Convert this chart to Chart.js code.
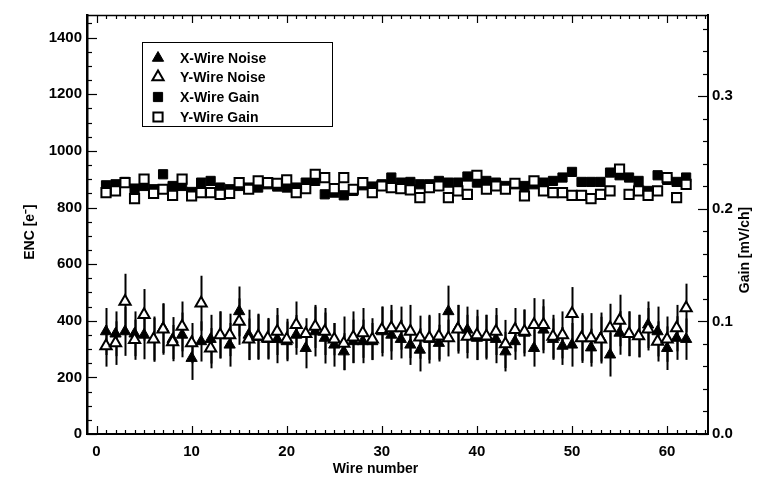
<!DOCTYPE html>
<html>
<head>
<meta charset="utf-8">
<script src="https://cdn.jsdelivr.net/npm/chart.js@4/dist/chart.umd.min.js"></script>
<style>
html, body { margin: 0; padding: 0; background: #fff; }
#wrap { width: 760px; height: 479px; }
</style>
</head>
<body>
<div id="wrap"><canvas id="c" width="760" height="479"></canvas></div>
<script>
// Wire numbers (x categories)
const wires = [1,2,3,4,5,6,7,8,9,10,11,12,13,14,15,16,17,18,19,20,21,22,23,24,25,26,27,28,29,30,31,
  32,33,34,35,36,37,38,39,40,41,42,43,44,45,46,47,48,49,50,51,52,53,54,55,56,57,58,59,60,61,62];

// Equivalent noise charge [e-] with its uncertainty, X wires
const xNoise = [362,354,362,354,350,335,374,335,350,268,327,335,350,315,433,350,342,335,335,327,350,
  303,362,339,315,291,327,327,327,362,350,335,315,297,335,321,433,374,368,339,342,335,291,327,357,
  303,368,335,311,315,339,305,339,280,357,354,346,386,362,303,339,335];
const xNoiseErr = [83,79,86,79,86,80,88,78,79,77,71,86,83,77,88,89,80,72,85,70,70,71,88,90,77,65,
  77,77,65,88,88,68,71,76,86,65,91,82,82,77,79,85,70,65,83,65,83,73,67,77,88,67,90,77,77,79,75,82,
  88,77,77,73];

// Equivalent noise charge [e-] with its uncertainty, Y wires
const yNoise = [311,321,468,333,421,335,370,325,380,321,462,303,350,350,397,335,345,338,362,335,386,
  354,380,362,335,320,342,357,335,368,374,374,362,342,339,345,339,370,344,350,345,362,318,368,362,
  386,386,344,350,425,339,339,335,374,401,354,346,370,327,335,374,445];
const yNoiseErr = [73,77,98,71,91,75,90,60,88,71,97,71,83,75,82,73,80,72,83,72,82,55,76,83,57,95,
  91,88,74,82,82,76,94,76,77,82,65,86,77,89,76,83,85,77,77,94,90,77,83,94,80,88,79,86,91,79,75,75,
  71,80,82,86];

// Gain [mV/ch]
const xGain = [0.2208,0.2217,0.2238,0.2179,0.2202,0.2173,0.2306,0.2202,0.2202,0.2149,0.2232,0.2247,
  0.2188,0.2173,0.2202,0.2188,0.2188,0.2217,0.2197,0.2188,0.2188,0.2232,0.2247,0.2128,0.2143,0.2119,
  0.2158,0.2208,0.2197,0.2217,0.2277,0.2232,0.2238,0.2217,0.2217,0.2247,0.2232,0.2232,0.2286,0.2232,
  0.2247,0.2232,0.2202,0.2217,0.2202,0.2217,0.2232,0.2247,0.2277,0.2327,0.2238,0.2238,0.2238,0.2321,
  0.2297,0.2277,0.2247,0.2158,0.2297,0.2256,0.2238,0.2277];
const yGain = [0.2143,0.2158,0.2232,0.2090,0.2262,0.2137,0.2173,0.2119,0.2262,0.2113,0.2143,0.2143,
  0.2128,0.2137,0.2232,0.2173,0.2247,0.2232,0.2226,0.2256,0.2143,0.2179,0.2306,0.2277,0.2179,0.2277,
  0.2173,0.2232,0.2143,0.2202,0.2188,0.2179,0.2167,0.2099,0.2188,0.2202,0.2099,0.2158,0.2128,0.2297,
  0.2173,0.2202,0.2173,0.2226,0.2113,0.2247,0.2158,0.2143,0.2143,0.2119,0.2119,0.2090,0.2128,0.2158,
  0.2351,0.2128,0.2158,0.2119,0.2158,0.2277,0.2099,0.2217];

// Axis ticks
const xTicks = [0,10,20,30,40,50,60];
const encTicks = [0,200,400,600,800,1000,1200,1400];
const gainTicks = [0.0,0.1,0.2,0.3];

const seriesNames = ['X-Wire Noise','Y-Wire Noise','X-Wire Gain','Y-Wire Gain'];

const FONT = '"Liberation Sans", Arial, Helvetica, sans-serif';
const pts = (vals) => wires.map((w, i) => ({ x: w, y: vals[i] }));

// Vertical error bars for the noise series, drawn beneath the markers
const errorBars = {
  id: 'errorBars',
  beforeDatasetsDraw(chart) {
    const { ctx } = chart;
    const xs = chart.scales.x, ys = chart.scales.y;
    ctx.save();
    ctx.strokeStyle = '#000';
    ctx.lineWidth = 2;
    [[xNoise, xNoiseErr], [yNoise, yNoiseErr]].forEach(([vals, errs]) => {
      wires.forEach((w, i) => {
        const px = Math.round(xs.getPixelForValue(w)) + 0.5;
        ctx.beginPath();
        ctx.moveTo(px, ys.getPixelForValue(vals[i] - errs[i]));
        ctx.lineTo(px, ys.getPixelForValue(vals[i] + errs[i]));
        ctx.stroke();
      });
    });
    ctx.restore();
  }
};

// Inward ticks on all four sides, top frame line, axis titles and the legend box
const frame = {
  id: 'frame',
  afterDatasetsDraw(chart) {
    const { ctx, chartArea: a } = chart;
    const xs = chart.scales.x, ys = chart.scales.y, gs = chart.scales.y2;
    ctx.save();
    ctx.strokeStyle = '#000';
    ctx.lineWidth = 1.5;
    // top frame line
    ctx.beginPath();
    ctx.moveTo(a.left, a.top + 0.5);
    ctx.lineTo(a.right, a.top + 0.5);
    ctx.stroke();

    ctx.lineWidth = 1.2;
    const tick = (x1, y1, x2, y2) => { ctx.beginPath(); ctx.moveTo(x1, y1); ctx.lineTo(x2, y2); ctx.stroke(); };
    // x ticks: every wire, major every 10
    for (let v = 0; v <= 64; v++) {
      const px = Math.round(xs.getPixelForValue(v)) + 0.5;
      const len = (v % 10 === 0) ? 8 : 4;
      tick(px, a.bottom, px, a.bottom - len);
      tick(px, a.top, px, a.top + len);
    }
    // ENC ticks: minor every 50, major every 200
    for (let v = 0; v <= 1450; v += 50) {
      const py = Math.round(ys.getPixelForValue(v)) + 0.5;
      const len = (v % 200 === 0) ? 10 : 5;
      tick(a.left, py, a.left + len, py);
    }
    // Gain ticks: minor every 0.02, major every 0.1
    for (let k = 0; k <= 18; k++) {
      const v = k * 0.02;
      const py = Math.round(gs.getPixelForValue(v)) + 0.5;
      const len = (k % 5 === 0) ? 10 : 5;
      tick(a.right, py, a.right - len, py);
    }

    // axis titles
    ctx.fillStyle = '#000';
    ctx.font = 'bold 14px ' + FONT;
    ctx.textAlign = 'center';
    ctx.textBaseline = 'middle';
    ctx.fillText('Wire number', (a.left + a.right) / 2 - 22, 469);

    ctx.save();
    ctx.translate(30, 232);
    ctx.rotate(-Math.PI / 2);
    ctx.fillText('ENC [e\u207B]', 0, 0);
    ctx.restore();

    ctx.save();
    ctx.translate(745, 250);
    ctx.rotate(-Math.PI / 2);
    ctx.fillText('Gain [mV/ch]', 0, 0);
    ctx.restore();

    // legend
    const box = { x: 142, y: 42, w: 190, h: 84 };
    ctx.fillStyle = '#fff';
    ctx.fillRect(box.x, box.y, box.w, box.h);
    ctx.lineWidth = 1;
    ctx.strokeRect(box.x + 0.5, box.y + 0.5, box.w, box.h);
    const rows = [58, 77, 97, 117];
    const mx = 158;
    chart.data.datasets.forEach((ds, i) => {
      const y = rows[i];
      ctx.lineWidth = ds.borderWidth;
      ctx.strokeStyle = '#000';
      ctx.fillStyle = ds.backgroundColor;
      ctx.beginPath();
      if (ds.pointStyle === 'triangle') {
        const r = ds.pointRadius;
        ctx.moveTo(mx, y - r);
        ctx.lineTo(mx + r * 0.866, y + r * 0.5);
        ctx.lineTo(mx - r * 0.866, y + r * 0.5);
        ctx.closePath();
      } else {
        const s = ds.pointRadius * Math.SQRT1_2;
        ctx.rect(mx - s, y - s, 2 * s, 2 * s);
      }
      ctx.fill();
      ctx.stroke();
      ctx.fillStyle = '#000';
      ctx.font = 'bold 14px ' + FONT;
      ctx.textAlign = 'left';
      ctx.textBaseline = 'middle';
      ctx.fillText(ds.label, 180, y + 1);
    });
    ctx.restore();
  }
};

const tickFont = { family: FONT, size: 15, weight: 'bold' };

new Chart(document.getElementById('c'), {
  type: 'scatter',
  data: {
    datasets: [
      { label: seriesNames[0], data: pts(xNoise), yAxisID: 'y', pointStyle: 'triangle',
        pointRadius: 6.5, backgroundColor: '#000', borderColor: '#000', borderWidth: 1, order: 2 },
      { label: seriesNames[1], data: pts(yNoise), yAxisID: 'y', pointStyle: 'triangle',
        pointRadius: 6.5, backgroundColor: '#fff', borderColor: '#000', borderWidth: 2, order: 1 },
      { label: seriesNames[2], data: pts(xGain), yAxisID: 'y2', pointStyle: 'rect',
        pointRadius: 6.5, backgroundColor: '#000', borderColor: '#000', borderWidth: 1, order: 4 },
      { label: seriesNames[3], data: pts(yGain), yAxisID: 'y2', pointStyle: 'rect',
        pointRadius: 6.5, backgroundColor: '#fff', borderColor: '#000', borderWidth: 2, order: 3 }
    ]
  },
  options: {
    responsive: false,
    animation: false,
    devicePixelRatio: 1,
    layout: { padding: { top: 15, left: 0, right: 0, bottom: 0 } },
    plugins: { legend: { display: false }, tooltip: { enabled: false } },
    elements: { point: { hoverRadius: 6.5 } },
    scales: {
      x: {
        type: 'linear', min: -1, max: 64.3, position: 'bottom',
        grid: { display: false, drawTicks: false },
        border: { display: true, color: '#000', width: 2 },
        ticks: { font: tickFont, color: '#000', padding: 9, maxRotation: 0, callback: v => String(v) },
        afterBuildTicks: s => { s.ticks = xTicks.map(v => ({ value: v })); },
        afterFit: s => { s.height = 45; }
      },
      y: {
        type: 'linear', min: 0, max: 1480, position: 'left',
        grid: { display: false, drawTicks: false },
        border: { display: true, color: '#000', width: 2.5 },
        ticks: { font: tickFont, color: '#000', padding: 5, callback: v => String(v) },
        afterBuildTicks: s => { s.ticks = encTicks.map(v => ({ value: v })); },
        afterFit: s => { s.width = 87; }
      },
      y2: {
        type: 'linear', min: 0, max: 0.372, position: 'right',
        grid: { display: false, drawTicks: false },
        border: { display: true, color: '#000', width: 2 },
        ticks: { font: tickFont, color: '#000', padding: 4, callback: v => v.toFixed(1) },
        afterBuildTicks: s => { s.ticks = gainTicks.map(v => ({ value: v })); },
        afterFit: s => { s.width = 52; }
      }
    }
  },
  plugins: [errorBars, frame]
});
</script>
</body>
</html>
